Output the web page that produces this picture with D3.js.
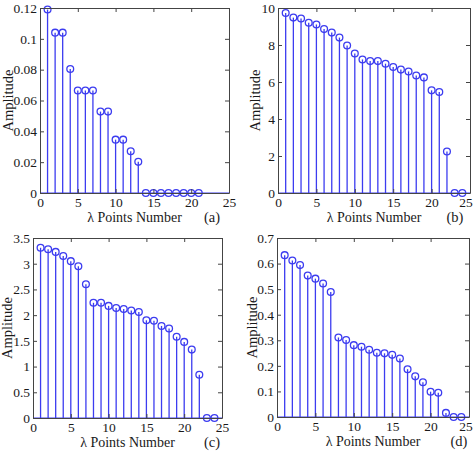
<!DOCTYPE html>
<html lang="en">
<head>
<meta charset="UTF-8">
<title>Amplitude stems</title>
<script src="https://cdn.jsdelivr.net/npm/d3@7"></script>
<style>
  body { margin: 0; background: #fff; }
  text { font-family: "Liberation Serif", "Times New Roman", serif; fill: #1a1a1a; }
</style>
</head>
<body>
<script>
// data
var pointsA = d3.range(1, 22);
var ampA = [0.119, 0.104, 0.104, 0.0804, 0.0665, 0.0665, 0.0665, 0.0528, 0.0528, 0.0346, 0.0346,
            0.0271, 0.0202, 0, 0, 0, 0, 0, 0, 0, 0];
var pointsB = d3.range(1, 25);
var ampB = [9.73, 9.48, 9.43, 9.2, 9.11, 8.86, 8.67, 8.4, 7.97, 7.54, 7.22, 7.13, 7.13, 6.99,
            6.81, 6.67, 6.57, 6.35, 6.25, 5.55, 5.46, 2.24, 0, 0];
var pointsC = d3.range(1, 25);
var ampC = [3.31, 3.28, 3.23, 3.15, 3.05, 2.95, 2.6, 2.24, 2.24, 2.18, 2.14, 2.12, 2.09, 2.06,
            1.9, 1.89, 1.79, 1.74, 1.58, 1.48, 1.33, 0.84, 0, 0];
var pointsD = d3.range(1, 25);
var ampD = [0.633, 0.612, 0.594, 0.553, 0.541, 0.522, 0.489, 0.311, 0.301, 0.281, 0.275, 0.263,
            0.251, 0.249, 0.243, 0.229, 0.187, 0.159, 0.136, 0.099, 0.095, 0.016, 0, 0];

var xTicks = [0, 5, 10, 15, 20, 25];
var yTicksA = [0, 0.02, 0.04, 0.06, 0.08, 0.1, 0.12];
var yTicksB = [0, 2, 4, 6, 8, 10];
var yTicksC = [0, 0.5, 1, 1.5, 2, 2.5, 3, 3.5];
var yTicksD = [0, 0.1, 0.2, 0.3, 0.4, 0.5, 0.6, 0.7];

var xLabel = "λ Points Number";
var yLabel = "Amplitude";
var panelNames = ["(a)", "(b)", "(c)", "(d)"];

var width = 474, height = 451;
var blue = "#3c3cf0";

var svg = d3.select("body").append("svg")
    .attr("width", width)
    .attr("height", height);

// one stem panel
function drawPanel(p) {
    var x = d3.scaleLinear().domain([0, 25]).range([p.left, p.right]);
    var y = d3.scaleLinear().domain([0, p.yTicks[p.yTicks.length - 1]]).range([p.bottom, p.top]);
    var g = svg.append("g");

    // stems
    g.selectAll(".stem").data(p.values).enter().append("line")
        .attr("x1", function(d, i) { return x(p.points[i]); })
        .attr("x2", function(d, i) { return x(p.points[i]); })
        .attr("y1", y(0))
        .attr("y2", function(d) { return y(d); })
        .attr("stroke", blue)
        .attr("stroke-width", 1.3);

    // baseline
    g.append("line")
        .attr("x1", x(0)).attr("x2", x(25))
        .attr("y1", y(0)).attr("y2", y(0))
        .attr("stroke", blue).attr("stroke-width", 1);

    // markers
    g.selectAll(".mk").data(p.values).enter().append("circle")
        .attr("cx", function(d, i) { return x(p.points[i]); })
        .attr("cy", function(d) { return y(d); })
        .attr("r", 3.4)
        .attr("fill", "none")
        .attr("stroke", blue)
        .attr("stroke-width", 1.3);

    // axes, ticks inside on all four sides
    var axB = g.append("g").attr("transform", "translate(0," + p.bottom + ")")
        .call(d3.axisBottom(x).tickValues(xTicks).tickSizeInner(-4).tickSizeOuter(0).tickPadding(4));
    var axT = g.append("g").attr("transform", "translate(0," + p.top + ")")
        .call(d3.axisTop(x).tickValues(xTicks).tickSizeInner(-4).tickSizeOuter(0).tickFormat(""));
    var axL = g.append("g").attr("transform", "translate(" + p.left + ",0)")
        .call(d3.axisLeft(y).tickValues(p.yTicks).tickSizeInner(-4).tickSizeOuter(0).tickPadding(3)
            .tickFormat(function(d) { return String(+d.toFixed(2)); }));
    var axR = g.append("g").attr("transform", "translate(" + p.right + ",0)")
        .call(d3.axisRight(y).tickValues(p.yTicks).tickSizeInner(-4).tickSizeOuter(0).tickFormat(""));

    [axB, axT, axL, axR].forEach(function(a) {
        a.select(".domain").attr("stroke", "#444").attr("stroke-width", 1);
        a.selectAll(".tick line").attr("stroke", "#444");
        a.selectAll("text").attr("font-size", 13.5).attr("fill", "#1a1a1a")
            .style("font-family", "'Liberation Serif', serif");
    });

    // keep the right-most tick label inside the picture
    axB.selectAll(".tick text").each(function() {
        var b = this.getBoundingClientRect();
        if (b.right > width - 1) d3.select(this).attr("dx", (width - 1 - b.right) + "px");
    });

    g.append("text")
        .attr("x", (p.left + p.right) / 2)
        .attr("y", p.bottom + 29)
        .attr("text-anchor", "middle")
        .attr("font-size", 14)
        .text(xLabel);

    g.append("text")
        .attr("transform", "translate(" + p.ylabelX + "," + (p.top + p.bottom) / 2 + ") rotate(-90)")
        .attr("dy", "0.35em")
        .attr("text-anchor", "middle")
        .attr("font-size", 14.5)
        .text(yLabel);

    g.append("text")
        .attr("x", p.right - p.nameOff)
        .attr("y", p.bottom + 29)
        .attr("text-anchor", "middle")
        .attr("font-size", 14.5)
        .text(p.name);
}

drawPanel({ points: pointsA, values: ampA, yTicks: yTicksA, name: panelNames[0],
            left: 40, right: 229, top: 8, bottom: 193, ylabelX: 8, nameOff: 17 });
drawPanel({ points: pointsB, values: ampB, yTicks: yTicksB, name: panelNames[1],
            left: 278, right: 470, top: 8, bottom: 193, ylabelX: 255, nameOff: 15 });
drawPanel({ points: pointsC, values: ampC, yTicks: yTicksC, name: panelNames[2],
            left: 33, right: 222, top: 238, bottom: 418, ylabelX: 7, nameOff: 10 });
drawPanel({ points: pointsD, values: ampD, yTicks: yTicksD, name: panelNames[3],
            left: 277, right: 469, top: 238, bottom: 417, ylabelX: 252, nameOff: 10 });
</script>
</body>
</html>
